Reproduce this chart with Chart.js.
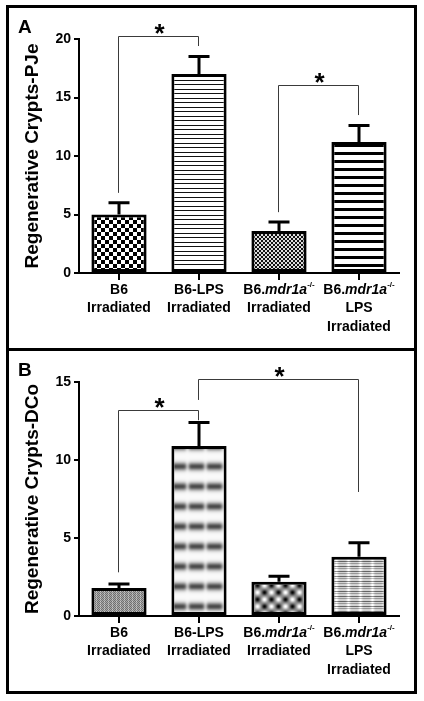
<!DOCTYPE html>
<html>
<head>
<meta charset="utf-8">
<script src="https://cdn.jsdelivr.net/npm/chart.js@4/dist/chart.umd.min.js"></script>
<style>
  body { margin: 0; background: #fff; width: 424px; height: 701px; position: relative; overflow: hidden; }
  .panel { position: absolute; left: 6px; width: 411px; height: 346px; border: 3px solid #000; box-sizing: border-box; }
  #panelA { top: 5px; }
  #panelB { top: 348px; }
  canvas { position: absolute; left: 9px; }
  #chartA { top: 8px; }
  #chartB { top: 351px; }
</style>
</head>
<body>
<div class="panel" id="panelA"></div>
<div class="panel" id="panelB"></div>
<canvas id="chartA" width="405" height="340"></canvas>
<canvas id="chartB" width="405" height="340"></canvas>
<script>
const FAMILY = "'Liberation Sans', Arial, sans-serif";

// categories (lines of each x label; <i> = italic, <sup> = superscript)
const categories = [
  ['B6', 'Irradiated'],
  ['B6-LPS', 'Irradiated'],
  ['B6.<i>mdr1a</i><sup>-/-</sup>', 'Irradiated'],
  ['B6.<i>mdr1a</i><sup>-/-</sup>', 'LPS', 'Irradiated']
];

// panel A - PJe
const pjeMeans = [5.0, 17.0, 3.6, 11.2];
const pjeSem = [1.0, 1.5, 0.75, 1.4];
const pjeMax = 20;

// panel B - DCo
const dcoMeans = [1.8, 10.9, 2.2, 3.8];
const dcoSem = [0.25, 1.5, 0.35, 0.9];
const dcoMax = 15;

// significance brackets: categories joined, bracket top and leg ends (y units)
const pjeBrackets = [
  { from: 0, to: 1, top: 20.25, leftEnd: 6.85, rightEnd: 19.4 },
  { from: 2, to: 3, top: 16.05, leftEnd: 5.2, rightEnd: 13.5 }
];
const dcoBrackets = [
  { from: 0, to: 1, top: 13.2, leftEnd: 2.8, rightEnd: 12.55 },
  { from: 1, to: 3, top: 15.2, leftEnd: 13.85, rightEnd: 7.95 }
];

function makePattern(w, h, paint) {
  const c = document.createElement('canvas');
  c.width = w;
  c.height = h;
  const g = c.getContext('2d');
  paint(g, w, h);
  return g.createPattern(c, 'repeat');
}

function paintPixels(g, w, h, fn) {
  const img = g.createImageData(w, h);
  for (let y = 0; y < h; y++) {
    for (let x = 0; x < w; x++) {
      const v = Math.max(0, Math.min(255, Math.round(fn(x, y))));
      const i = (y * w + x) * 4;
      img.data[i] = v; img.data[i + 1] = v; img.data[i + 2] = v; img.data[i + 3] = 255;
    }
  }
  g.putImageData(img, 0, 0);
}

function blob(x, y, cx, cy, s, w, h) {
  let dx = Math.abs(x + 0.5 - cx); dx = Math.min(dx, w - dx);
  let dy = Math.abs(y + 0.5 - cy); dy = Math.min(dy, h - dy);
  return Math.exp(-(dx * dx + dy * dy) / (2 * s * s));
}

const pjePatterns = [
  makePattern(8, 8, g => {
    g.fillStyle = '#fff'; g.fillRect(0, 0, 8, 8);
    g.fillStyle = '#000'; g.fillRect(0, 0, 4, 4); g.fillRect(4, 4, 4, 4);
  }),
  makePattern(4, 9, g => {
    g.fillStyle = '#fff'; g.fillRect(0, 0, 4, 9);
    g.fillStyle = '#111'; g.fillRect(0, 0, 4, 1); g.fillRect(0, 4, 4, 1);
  }),
  makePattern(4, 4, g => {
    g.fillStyle = '#dcdcdc'; g.fillRect(0, 0, 4, 4);
    g.fillStyle = '#111'; g.fillRect(0, 0, 2, 2); g.fillRect(2, 2, 2, 2);
  }),
  makePattern(4, 8, g => {
    g.fillStyle = '#fff'; g.fillRect(0, 0, 4, 8);
    g.fillStyle = '#000'; g.fillRect(0, 0, 4, 3);
  })
];

const dcoPatterns = [
  makePattern(4, 4, g => paintPixels(g, 4, 4, (x, y) => ((x + y) % 2 === 0 ? 110 : 170) + (x === 3 ? 30 : 0))),
  makePattern(18, 20, g => paintPixels(g, 18, 20, (x, y) => {
    const band = blob(0, y, 0.5, 15.5, 2.8, 18, 20);
    const gap = 1 - 0.6 * blob(x, 0, 16.5, 0.5, 1.7, 18, 20);
    return 250 - 175 * band * gap;
  })),
  makePattern(14, 14, g => paintPixels(g, 14, 14, (x, y) => {
    const dark = blob(x, y, 3.5, 3.5, 1.8, 14, 14) + blob(x, y, 10.5, 10.5, 1.8, 14, 14);
    const light = blob(x, y, 10.5, 3.5, 2, 14, 14) + blob(x, y, 3.5, 10.5, 2, 14, 14);
    return 135 - 130 * dark + 120 * light;
  })),
  makePattern(12, 5, g => paintPixels(g, 12, 5, (x, y) => {
    const row = y === 0 ? 100 : y === 2 ? 150 : 210;
    const col = blob(x, 0, 3.5, 0.5, 1.3, 12, 5) * 45;
    return row + col;
  }))
];

function drawRich(ctx, text, cx, cy) {
  const parts = [];
  const re = /<(i|sup)>(.*?)<\/\1>|([^<]+)/g;
  let m;
  while ((m = re.exec(text))) {
    if (m[3]) parts.push({ t: m[3], s: 'n' });
    else parts.push({ t: m[2], s: m[1] });
  }
  const fontFor = s => s === 'i' ? `italic bold 14px ${FAMILY}`
    : s === 'sup' ? `bold 8px ${FAMILY}` : `bold 14px ${FAMILY}`;
  let total = 0;
  parts.forEach(p => { ctx.font = fontFor(p.s); p.w = ctx.measureText(p.t).width; total += p.w; });
  let x = cx - total / 2;
  parts.forEach(p => {
    ctx.font = fontFor(p.s);
    ctx.fillText(p.t, x, p.s === 'sup' ? cy - 5 : cy);
    x += p.w;
  });
}

function makeChart(id, means, sems, max, title, patterns, brackets, letter) {
  const decor = {
    id: 'decor' + id,
    afterDatasetsDraw(chart) {
      const ctx = chart.ctx;
      const xs = chart.scales.x;
      const ys = chart.scales.y;
      const area = chart.chartArea;
      ctx.save();

      // error bars (upper only)
      ctx.strokeStyle = '#000';
      ctx.lineWidth = 3;
      chart.getDatasetMeta(0).data.forEach((el, i) => {
        const top = ys.getPixelForValue(means[i] + sems[i]);
        ctx.beginPath();
        ctx.moveTo(el.x, el.y);
        ctx.lineTo(el.x, top);
        ctx.moveTo(el.x - 10.5, top);
        ctx.lineTo(el.x + 10.5, top);
        ctx.stroke();
      });

      // significance brackets + stars
      ctx.strokeStyle = '#3a3a3a';
      ctx.lineWidth = 1;
      brackets.forEach(b => {
        const x1 = Math.round(xs.getPixelForValue(b.from)) - 0.5;
        const x2 = Math.round(xs.getPixelForValue(b.to)) - 0.5;
        const yt = Math.round(ys.getPixelForValue(b.top)) + 0.5;
        ctx.beginPath();
        ctx.moveTo(x1, ys.getPixelForValue(b.leftEnd));
        ctx.lineTo(x1, yt);
        ctx.lineTo(x2, yt);
        ctx.lineTo(x2, ys.getPixelForValue(b.rightEnd));
        ctx.stroke();
        ctx.fillStyle = '#000';
        ctx.font = `bold 26px ${FAMILY}`;
        ctx.textAlign = 'center';
        ctx.textBaseline = 'alphabetic';
        ctx.fillText('*', (x1 + x2) / 2 + 1, yt + 5);
      });

      // x labels
      ctx.fillStyle = '#000';
      ctx.textAlign = 'left';
      ctx.textBaseline = 'middle';
      categories.forEach((lines, i) => {
        const cx = xs.getPixelForValue(i);
        lines.forEach((line, j) => drawRich(ctx, line, cx, area.bottom + 17 + j * 18.5));
      });

      // panel letter
      ctx.font = `bold 19px ${FAMILY}`;
      ctx.textBaseline = 'alphabetic';
      ctx.fillText(letter, 9, 25);
      ctx.restore();
    }
  };

  return new Chart(document.getElementById(id), {
    type: 'bar',
    data: {
      labels: categories.map(c => c.join(' ')),
      datasets: [{
        data: means,
        backgroundColor: patterns,
        borderColor: '#000',
        borderWidth: 3,
        borderSkipped: false,
        barPercentage: 0.69,
        categoryPercentage: 1
      }]
    },
    options: {
      responsive: false,
      animation: false,
      layout: { padding: { top: 31, right: 15, left: 0, bottom: 0 } },
      plugins: { legend: { display: false }, tooltip: { enabled: false } },
      scales: {
        x: {
          ticks: { display: false },
          grid: { offset: false, drawOnChartArea: false, drawTicks: true, tickLength: 7, color: '#000', lineWidth: 2 },
          border: { display: true, color: '#000', width: 2 },
          afterFit: s => { s.height = 75; }
        },
        y: {
          min: 0,
          max: max,
          ticks: { stepSize: 5, color: '#000', padding: 3, font: { family: FAMILY, size: 14, weight: 'bold' } },
          grid: { drawOnChartArea: false, drawTicks: true, tickLength: 5, color: '#000', lineWidth: 2 },
          border: { display: true, color: '#000', width: 2 },
          title: {
            display: true,
            text: title,
            color: '#000',
            font: { family: FAMILY, size: 19, weight: 'bold' },
            padding: { top: 12, bottom: 0 }
          },
          afterFit: s => { s.width = 70; }
        }
      }
    },
    plugins: [decor]
  });
}

makeChart('chartA', pjeMeans, pjeSem, pjeMax, 'Regenerative Crypts-PJe', pjePatterns, pjeBrackets, 'A');
makeChart('chartB', dcoMeans, dcoSem, dcoMax, 'Regenerative Crypts-DCo', dcoPatterns, dcoBrackets, 'B');
</script>
</body>
</html>
